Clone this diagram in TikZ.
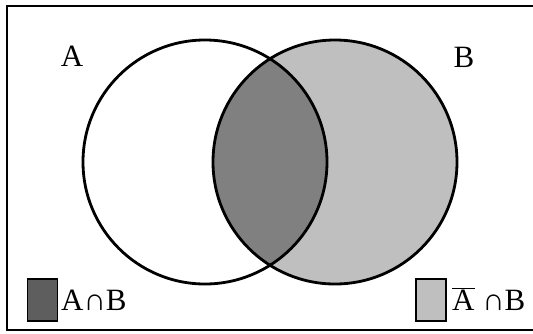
\documentclass[tikz,border=0pt]{standalone}
\usepackage{fontspec}
\setmainfont{Liberation Serif}
\usepackage{tikz}
\definecolor{lightset}{gray}{0.75}
\definecolor{darkset}{gray}{0.5}
\definecolor{darkkey}{gray}{0.37}

\begin{document}
\begin{tikzpicture}[x=1pt, y=-1pt,
	set/.style = {draw, line width=2.8pt},
	lbl/.style = {font=\fontsize{31}{32}\selectfont, inner sep=0pt},
	key/.style = {draw, line width=1.8pt}]
	\useasboundingbox (0,0) rectangle (533,333);
	\draw[line width=2.2pt] (7,6) rectangle (540,330);
	\coordinate (cA) at (205,162);
	\coordinate (cB) at (335,162);
	% shaded regions
	\fill[lightset] (cB) circle (122);
	\begin{scope}
		\clip (cA) circle (122);
		\fill[darkset] (cB) circle (122);
	\end{scope}
	\draw[set] (cA) circle (122);
	\draw[set] (cB) circle (122);
	\node[lbl] (A) at (72,56) {A};
	\node[lbl] (B) at (464,57) {B};
	% legend
	\node[key, fill=darkkey, minimum width=30pt, minimum height=42pt, inner sep=0pt] (k1) at (42.5,300) {};
	\node[lbl, anchor=base west] (t1) at (61,310) {A∩B};
	\node[key, fill=lightset, minimum width=30pt, minimum height=42pt, inner sep=0pt] (k2) at (431,300) {};
	\node[lbl, anchor=base west] (t2) at (452,310) {$\overline{\mbox{A}}$ ∩B};
\end{tikzpicture}
\end{document}
